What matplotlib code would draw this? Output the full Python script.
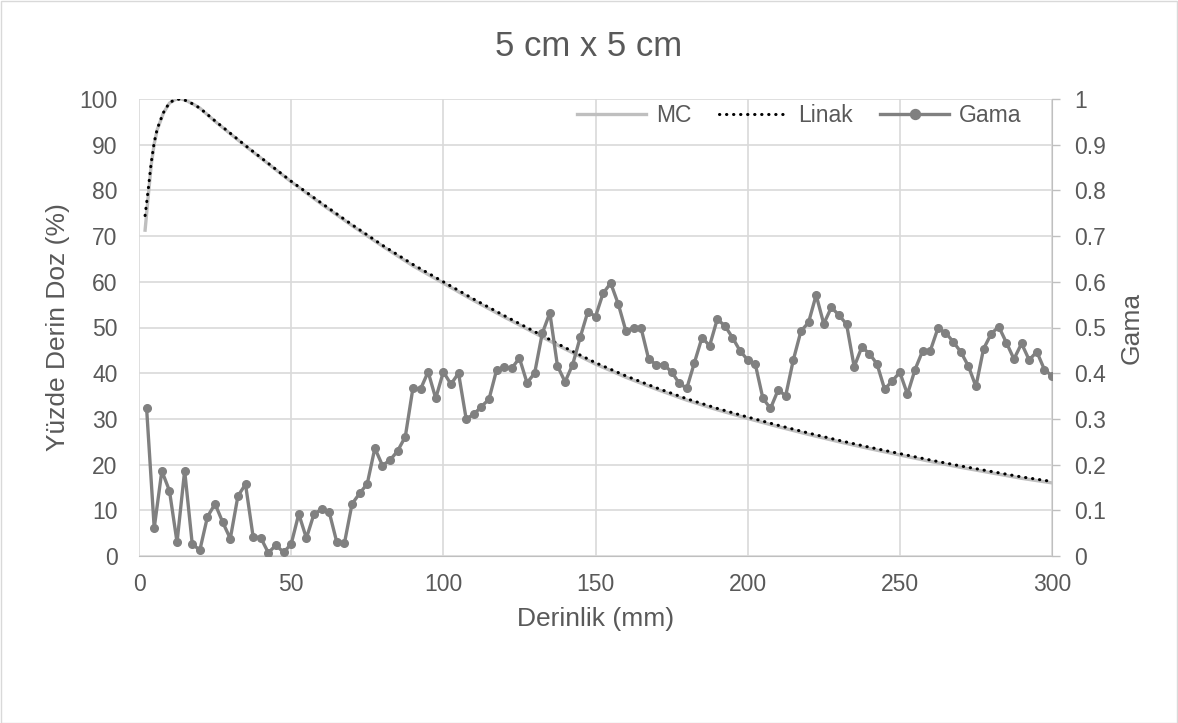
import matplotlib
matplotlib.use('Agg')
from matplotlib import pyplot as plt
from matplotlib.patches import Rectangle

plt.rcParams['font.family'] = ['Liberation Sans', 'DejaVu Sans']

# PDD curves (depth in mm, dose in %)
pdd_depth = [2, 3, 4, 5, 6, 8, 10, 12, 14, 16, 18, 20, 25, 30, 35, 40, 45, 50,
             60, 70, 80, 90, 100, 110, 120, 130, 140, 150, 160, 170, 180, 190,
             200, 210, 220, 230, 240, 250, 260, 270, 280, 290, 300]
linak = [74.5, 80.0, 86.0, 90.5, 93.5, 97.0, 99.2, 99.9, 100.0, 99.5, 98.8, 98.0,
         95.2, 92.5, 89.8, 87.2, 84.6, 82.0, 77.2, 72.5, 68.0, 63.8, 60.0, 56.2,
         52.6, 49.1, 45.6, 42.3, 39.4, 36.8, 34.4, 32.3, 30.4, 28.6, 26.9, 25.3,
         23.8, 22.4, 21.0, 19.7, 18.5, 17.3, 16.3]
mc = [71.3, 78.5, 85.5, 90.2, 93.3, 96.9, 99.1, 99.9, 100.0, 99.5, 98.8, 98.0,
      95.1, 92.4, 89.7, 87.1, 84.5, 81.9, 77.0, 72.3, 67.8, 63.5, 59.7, 55.9,
      52.3, 48.8, 45.3, 42.0, 39.1, 36.5, 34.1, 32.0, 30.1, 28.3, 26.6, 25.0,
      23.5, 22.1, 20.7, 19.4, 18.2, 17.0, 16.0]

# gamma index, every 2.5 mm
gama_depth = [2.5 * (i + 1) for i in range(120)]
gama = [0.323, 0.061, 0.186, 0.143, 0.030, 0.187, 0.026, 0.013, 0.086, 0.114,
        0.074, 0.038, 0.131, 0.157, 0.042, 0.040, 0.007, 0.024, 0.008, 0.026,
        0.092, 0.039, 0.092, 0.102, 0.096, 0.030, 0.028, 0.114, 0.137, 0.158,
        0.236, 0.198, 0.210, 0.230, 0.261, 0.367, 0.365, 0.403, 0.345, 0.403,
        0.376, 0.400, 0.300, 0.310, 0.327, 0.343, 0.407, 0.413, 0.411, 0.433,
        0.379, 0.400, 0.487, 0.532, 0.416, 0.381, 0.419, 0.479, 0.535, 0.524,
        0.575, 0.597, 0.551, 0.492, 0.500, 0.498, 0.430, 0.419, 0.418, 0.403,
        0.378, 0.367, 0.423, 0.478, 0.460, 0.518, 0.504, 0.478, 0.449, 0.429,
        0.420, 0.345, 0.323, 0.363, 0.351, 0.429, 0.492, 0.511, 0.571, 0.508,
        0.544, 0.527, 0.507, 0.414, 0.457, 0.443, 0.420, 0.365, 0.383, 0.402,
        0.354, 0.408, 0.449, 0.449, 0.498, 0.489, 0.469, 0.447, 0.416, 0.371,
        0.453, 0.486, 0.502, 0.467, 0.431, 0.465, 0.429, 0.447, 0.408, 0.394]

x_ticks = [0, 50, 100, 150, 200, 250, 300]
y_ticks = list(range(0, 101, 10))
y2_ticks = [i / 10 for i in range(11)]
y2_labels = ['0', '0.1', '0.2', '0.3', '0.4', '0.5', '0.6', '0.7', '0.8', '0.9', '1']

txt = '#595959'
grid = '#D9D9D9'
axc = '#BFBFBF'
fs = 16.5

fig = plt.figure(figsize=(11.78, 7.23), dpi=100)
W, H = 1178, 723
ax1 = fig.add_axes([139 / W, 1 - 556 / H, (1052 - 139) / W, (556 - 99) / H])
fig.patches.append(Rectangle((0.5 / W, 0.5 / H), 1 - 1.5 / W, 1 - 1.5 / H,
                             transform=fig.transFigure, fill=False,
                             edgecolor=grid, lw=1))

l_mc, = ax1.plot(pdd_depth, mc, color=axc, lw=2.4, label='MC', zorder=3)
l_li, = ax1.plot(pdd_depth, linak, color='black', lw=2.2, linestyle=(0, (0.1, 2.2)),
                 dash_capstyle='round', label='Linak', zorder=4)
ax1.set_xlim(0, 300)
ax1.set_ylim(0, 100)
ax1.set_xticks(x_ticks)
ax1.set_yticks(y_ticks)
ax1.grid(True, color=grid, lw=1.2)
ax1.set_axisbelow(True)
for s in ax1.spines.values():
    s.set_visible(False)
ax1.spines['bottom'].set_visible(True)
ax1.spines['bottom'].set_color(axc)
ax1.tick_params(length=0, labelsize=fs, colors=txt)
ax1.tick_params(axis='x', pad=12)
ax1.tick_params(axis='y', pad=15.5)
ax1.set_xlabel('Derinlik (mm)', fontsize=19, color=txt)
ax1.set_ylabel('Yüzde Derin Doz (%)', fontsize=19, color=txt)
ax1.xaxis.set_label_coords(0.5, -0.112)
ax1.yaxis.set_label_coords(-0.076, 0.5)

ax2 = ax1.twinx()
l_ga, = ax2.plot(gama_depth, gama, color='#808080', lw=2.4, marker='o',
                 markersize=5.5, label='Gama', zorder=5)
ax2.set_ylim(0, 1)
ax2.set_yticks(y2_ticks)
ax2.set_yticklabels(y2_labels)
for s in ax2.spines.values():
    s.set_visible(False)
ax2.spines['right'].set_visible(True)
ax2.spines['right'].set_color(axc)
ax2.tick_params(axis='y', direction='out', length=6, width=1, color=axc,
                labelsize=fs, labelcolor=txt, pad=10)
ax2.set_ylabel('Gama', fontsize=19, color=txt, rotation=90)
ax2.yaxis.set_label_coords(1.0745, 0.5)

ax2.legend(handles=[l_mc, l_li, l_ga], loc='center right', ncol=3, frameon=False,
           fontsize=fs, labelcolor=txt, bbox_to_anchor=(0.967, 0.964),
           borderaxespad=0, borderpad=0, markerscale=1.3,
           handlelength=3.0, columnspacing=1.2, handletextpad=0.45)

fig.text(0.5, 1 - 47 / H, '5 cm x 5 cm', ha='center', va='center', fontsize=25, color=txt)

plt.savefig('out.png', dpi=100)
